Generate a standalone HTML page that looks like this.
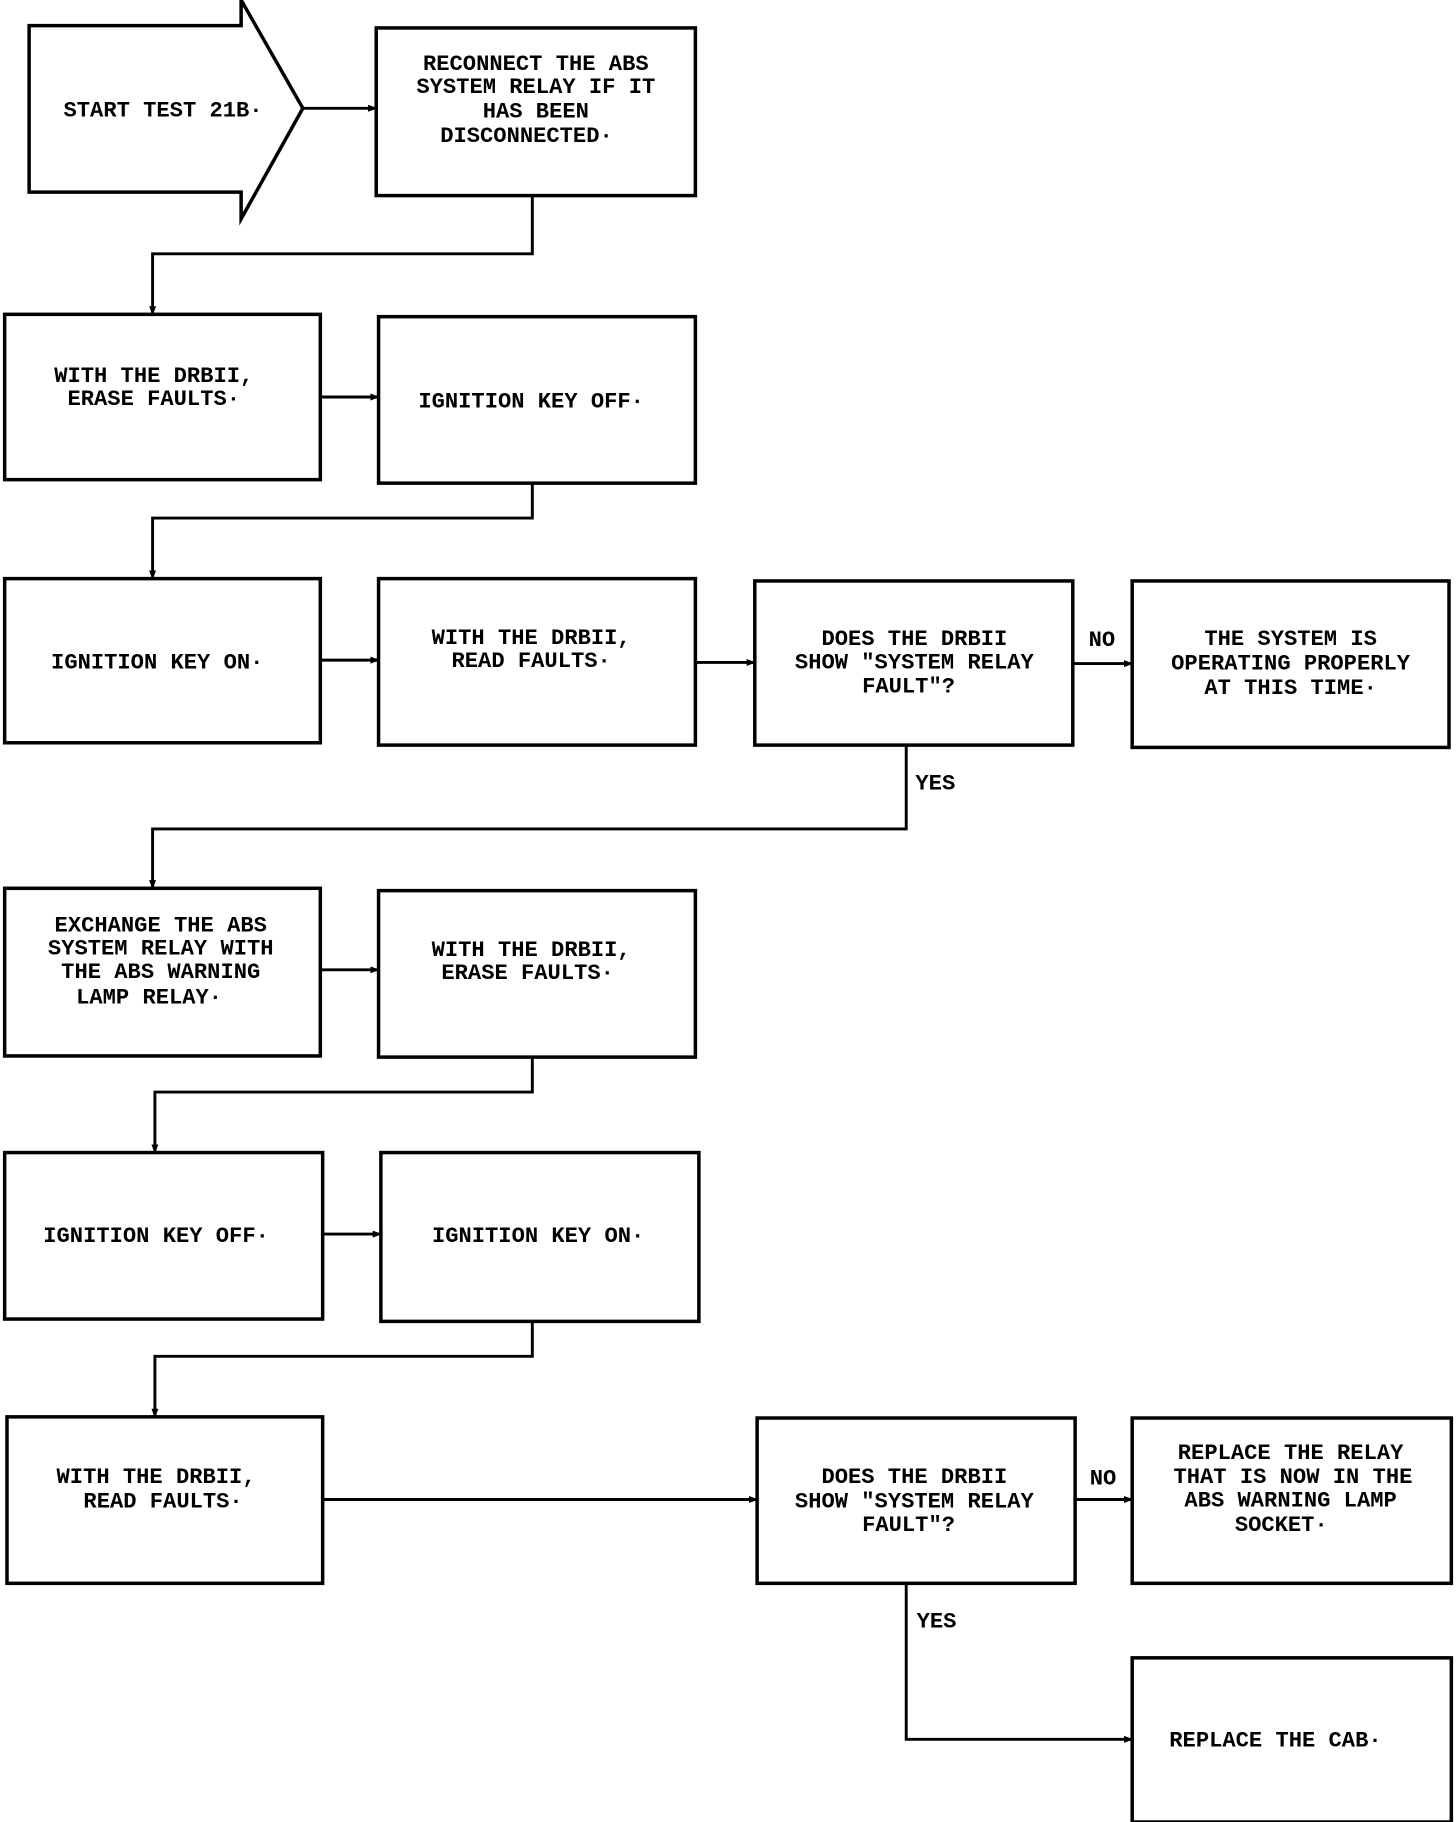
<!DOCTYPE html>
<html><head><style>
html,body{margin:0;padding:0;background:#fff;}
svg{display:block;}
text{font-family:"Liberation Mono",monospace;font-weight:bold;font-size:19px;fill:#000;text-anchor:middle;}
</style></head><body>
<svg width="1456" height="1822" viewBox="0 0 1250 1565" preserveAspectRatio="none">
<defs><marker id="a" markerWidth="8" markerHeight="8" refX="7" refY="4" orient="auto" markerUnits="userSpaceOnUse"><path d="M0,1 L8,4 L0,7 Z" fill="#000"/></marker></defs>
<g fill="none" stroke="#000" stroke-width="3">
<path d="M25,22 L207,22 L207,0 L260,93 L207,188 L207,165 L25,165 Z"/>
<rect x="323" y="24" width="274" height="144"/>
<rect x="4" y="270" width="271" height="142"/>
<rect x="325" y="272" width="272" height="143"/>
<rect x="4" y="497" width="271" height="141"/>
<rect x="325" y="497" width="272" height="143"/>
<rect x="648" y="499" width="273" height="141"/>
<rect x="972" y="499" width="272" height="143"/>
<rect x="4" y="763" width="271" height="144"/>
<rect x="325" y="765" width="272" height="143"/>
<rect x="4" y="990" width="273" height="143"/>
<rect x="327" y="990" width="273" height="145"/>
<rect x="6" y="1217" width="271" height="143"/>
<rect x="650" y="1218" width="273" height="142"/>
<rect x="972" y="1218" width="274" height="142"/>
<rect x="972" y="1424" width="274" height="141"/>
</g>
<g fill="none" stroke="#000" stroke-width="2.5" marker-end="url(#a)">
<path d="M260,93 L323,93"/>
<path d="M457,168 L457,218 L131,218 L131,270"/>
<path d="M275,341 L325,341"/>
<path d="M457,415 L457,445 L131,445 L131,497"/>
<path d="M275,567 L325,567"/>
<path d="M597,569 L648,569"/>
<path d="M921,570 L972,570"/>
<path d="M778,640 L778,712 L131,712 L131,763"/>
<path d="M275,833 L325,833"/>
<path d="M457,908 L457,938 L133,938 L133,990"/>
<path d="M277,1060 L327,1060"/>
<path d="M457,1135 L457,1165 L133,1165 L133,1217"/>
<path d="M277,1288 L650,1288"/>
<path d="M923,1288 L972,1288"/>
<path d="M778,1360 L778,1494 L972,1494"/>
</g>
<text x="140" y="100">START TEST 21B·</text>
<text x="460" y="60">RECONNECT THE ABS</text>
<text x="460" y="80">SYSTEM RELAY IF IT</text>
<text x="460" y="101">HAS BEEN</text>
<text x="452" y="122">DISCONNECTED·</text>
<text x="132" y="328">WITH THE DRBII,</text>
<text x="132" y="348">ERASE FAULTS·</text>
<text x="456" y="350">IGNITION KEY OFF·</text>
<text x="135" y="574">IGNITION KEY ON·</text>
<text x="456" y="553">WITH THE DRBII,</text>
<text x="456" y="573">READ FAULTS·</text>
<text x="785" y="554">DOES THE DRBII</text>
<text x="785" y="574">SHOW "SYSTEM RELAY</text>
<text x="780" y="595">FAULT"?</text>
<text x="946" y="555">NO</text>
<text x="1108" y="554">THE SYSTEM IS</text>
<text x="1108" y="575">OPERATING PROPERLY</text>
<text x="1108" y="596">AT THIS TIME·</text>
<text x="803" y="678">YES</text>
<text x="138" y="800">EXCHANGE THE ABS</text>
<text x="138" y="820">SYSTEM RELAY WITH</text>
<text x="138" y="840">THE ABS WARNING</text>
<text x="128" y="862">LAMP RELAY·</text>
<text x="456" y="821">WITH THE DRBII,</text>
<text x="453" y="841">ERASE FAULTS·</text>
<text x="134" y="1067">IGNITION KEY OFF·</text>
<text x="462" y="1067">IGNITION KEY ON·</text>
<text x="134" y="1274">WITH THE DRBII,</text>
<text x="140" y="1295">READ FAULTS·</text>
<text x="785" y="1274">DOES THE DRBII</text>
<text x="785" y="1295">SHOW "SYSTEM RELAY</text>
<text x="780" y="1315">FAULT"?</text>
<text x="947" y="1275">NO</text>
<text x="1108" y="1253">REPLACE THE RELAY</text>
<text x="1110" y="1274">THAT IS NOW IN THE</text>
<text x="1108" y="1294">ABS WARNING LAMP</text>
<text x="1100" y="1315">SOCKET·</text>
<text x="804" y="1398">YES</text>
<text x="1095" y="1500">REPLACE THE CAB·</text>
</svg>
</body></html>
